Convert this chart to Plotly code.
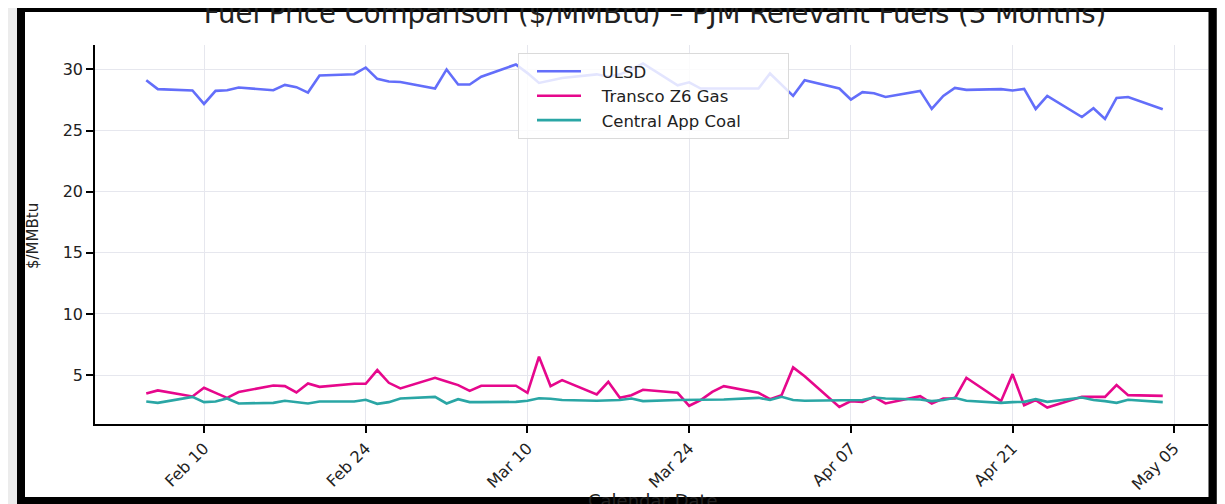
import plotly.graph_objects as go

# ------------------------------------------------------------------
# Data (business days, 2026)
# ------------------------------------------------------------------
dates = [
    "2026-02-05", "2026-02-06", "2026-02-09", "2026-02-10", "2026-02-11", "2026-02-12",
    "2026-02-13", "2026-02-16", "2026-02-17", "2026-02-18", "2026-02-19", "2026-02-20",
    "2026-02-23", "2026-02-24", "2026-02-25", "2026-02-26", "2026-02-27",
    "2026-03-02", "2026-03-03", "2026-03-04", "2026-03-05", "2026-03-06", "2026-03-09",
    "2026-03-10", "2026-03-11", "2026-03-12", "2026-03-13", "2026-03-16", "2026-03-17",
    "2026-03-18", "2026-03-19", "2026-03-20", "2026-03-23", "2026-03-24", "2026-03-25",
    "2026-03-26", "2026-03-27", "2026-03-30", "2026-03-31",
    "2026-04-01", "2026-04-02", "2026-04-03", "2026-04-06", "2026-04-07", "2026-04-08",
    "2026-04-09", "2026-04-10", "2026-04-13", "2026-04-14", "2026-04-15", "2026-04-16",
    "2026-04-17", "2026-04-20", "2026-04-21", "2026-04-22", "2026-04-23", "2026-04-24",
    "2026-04-27", "2026-04-28", "2026-04-29", "2026-04-30",
    "2026-05-01", "2026-05-04",
]

ulsd = [
    29.12, 28.39, 28.28, 27.18, 28.25, 28.30, 28.52, 28.30, 28.74, 28.55, 28.11, 29.51,
    29.61, 30.16, 29.23, 29.02, 28.98,
    28.44, 30.00, 28.77, 28.77, 29.40, 30.41, 29.70, 28.90, 29.07, 29.30, 29.60, 29.40,
    29.60, 30.00, 30.49, 28.70, 28.95, 28.44, 28.44, 28.45, 28.44, 29.67,
    28.75, 27.84, 29.12, 28.44, 27.54, 28.14, 28.06, 27.75, 28.25, 26.77, 27.84, 28.49,
    28.33, 28.39, 28.28, 28.41, 26.77, 27.84, 26.11, 26.83, 25.95, 27.67,
    27.75, 26.75,
]

transco_z6 = [
    3.50, 3.75, 3.25, 3.96, 3.55, 3.14, 3.61, 4.15, 4.10, 3.58, 4.32, 4.04,
    4.29, 4.29, 5.41, 4.37, 3.91,
    4.78, 4.48, 4.18, 3.71, 4.13, 4.13, 3.55, 6.50, 4.10, 4.59, 3.42, 4.45,
    3.14, 3.36, 3.80, 3.55, 2.49, 2.95, 3.63, 4.10, 3.55, 3.03,
    3.36, 5.63, 4.90, 2.40, 2.87, 2.81, 3.22, 2.68, 3.28, 2.68, 3.09, 3.09,
    4.78, 2.87, 5.08, 2.54, 2.95, 2.35, 3.22, 3.22, 3.22, 4.18,
    3.36, 3.30,
]

central_app_coal = [
    2.84, 2.73, 3.22, 2.79, 2.84, 3.09, 2.68, 2.73, 2.90, 2.82, 2.68, 2.84,
    2.84, 2.98, 2.65, 2.79, 3.09,
    3.22, 2.68, 3.03, 2.79, 2.79, 2.81, 2.90, 3.11, 3.06, 2.96, 2.90, 2.96,
    2.96, 3.09, 2.87, 2.96, 2.96, 2.96, 3.00, 3.00, 3.14, 2.96,
    3.22, 2.96, 2.90, 2.95, 3.00, 2.96, 3.17, 3.09, 3.00, 2.87, 2.96, 3.14,
    2.90, 2.73, 2.79, 2.81, 3.03, 2.81, 3.17, 2.96, 2.87, 2.73,
    2.98, 2.79,
]

tick_dates = ["2026-02-10", "2026-02-24", "2026-03-10", "2026-03-24",
              "2026-04-07", "2026-04-21", "2026-05-05"]
tick_labels = ["Feb 10", "Feb 24", "Mar 10", "Mar 24", "Apr 07", "Apr 21", "May 05"]

series = [
    ("ULSD", ulsd, "#636EFA"),
    ("Transco Z6 Gas", transco_z6, "#E6078C"),
    ("Central App Coal", central_app_coal, "#2AA6A5"),
]

# ------------------------------------------------------------------
# Layout geometry (figure pixels; the page adds an 8px body margin)
# ------------------------------------------------------------------
W, H = 1225, 504
PLOT_L, PLOT_R, PLOT_T, PLOT_B = 87, 1200, 37, 416
FONT = "DejaVu Sans"
NBSP = "\u00a0"


def px_x(x):
    """Figure pixel x -> paper x."""
    return (x - PLOT_L) / (PLOT_R - PLOT_L)


def px_y(y):
    """Figure pixel y -> paper y."""
    return (PLOT_B - y) / (PLOT_B - PLOT_T)


fig = go.Figure()

for name, values, color in series:
    fig.add_trace(
        go.Scatter(
            x=dates,
            y=values,
            mode="lines",
            # non-breaking spaces widen the gap between swatch and text
            name=NBSP * 3 + name + NBSP * 8,
            line=dict(color=color, width=2.6),
        )
    )

axis_common = dict(
    showline=True,
    linecolor="black",
    linewidth=1.6,
    ticks="outside",
    ticklen=7,
    tickwidth=1.5,
    tickcolor="black",
    showgrid=True,
    gridcolor="#E6E7EE",
    gridwidth=1.2,
    zeroline=False,
    tickfont=dict(family=FONT, size=16, color="#222222"),
)

fig.update_layout(
    width=W,
    height=H,
    margin=dict(l=PLOT_L, r=W - PLOT_R, t=PLOT_T, b=H - PLOT_B, pad=0),
    paper_bgcolor="#ECECEC",
    plot_bgcolor="rgba(0,0,0,0)",
    font=dict(family=FONT, color="#222222"),
    title=dict(
        text="Fuel Price Comparison ($/MMBtu) – PJM Relevant Fuels (3 Months)",
        font=dict(family=FONT, size=27.5, color="#222222"),
        x=px_x(647),
        xanchor="center",
        xref="paper",
        y=1 - 5 / H,
        yref="container",
        yanchor="middle",
    ),
    xaxis=dict(
        **axis_common,
        type="date",
        range=["2026-01-31 13:30", "2026-05-07 22:00"],
        tickmode="array",
        tickvals=tick_dates,
        ticktext=tick_labels,
        tickangle=-45,
    ),
    yaxis=dict(
        **axis_common,
        range=[1.0, 32.0],
        tickmode="array",
        tickvals=[5, 10, 15, 20, 25, 30],
    ),
    legend=dict(
        x=px_x(510),
        y=px_y(45),
        xanchor="left",
        yanchor="top",
        bgcolor="rgba(255,255,255,0.82)",
        bordercolor="#DADADA",
        borderwidth=1,
        font=dict(family=FONT, size=16.5, color="#222222"),
        tracegroupgap=0,
        indentation=13,
        itemwidth=44,
    ),
    showlegend=True,
)

# axis titles as annotations so they sit where the reference has them
fig.add_annotation(
    text="$/MMBtu", textangle=-90, showarrow=False,
    xref="paper", yref="paper", x=px_x(25), y=px_y(228),
    xanchor="center", yanchor="middle",
    font=dict(family=FONT, size=15, color="#222222"),
)
fig.add_annotation(
    text="Calendar Date", showarrow=False,
    xref="paper", yref="paper", x=px_x(645), y=px_y(480),
    xanchor="center", yanchor="top",
    font=dict(family=FONT, size=18, color="#222222"),
)

# white card behind the chart, black frame on top, grey shadow on the right
fig.add_shape(
    type="rect", xref="paper", yref="paper", layer="below",
    x0=px_x(13), x1=px_x(1205), y0=px_y(493), y1=px_y(0),
    fillcolor="white", line=dict(width=0),
)
fig.add_shape(
    type="rect", xref="paper", yref="paper", layer="below",
    x0=px_x(1208), x1=px_x(1225), y0=px_y(504), y1=px_y(0),
    fillcolor="#6E6E6E", line=dict(width=0),
)
fig.add_shape(
    type="rect", xref="paper", yref="paper", layer="above",
    x0=px_x(13), x1=px_x(1204.5), y0=px_y(493), y1=px_y(0),
    fillcolor="rgba(0,0,0,0)", line=dict(color="black", width=8),
)

fig.write_html("out.html")
